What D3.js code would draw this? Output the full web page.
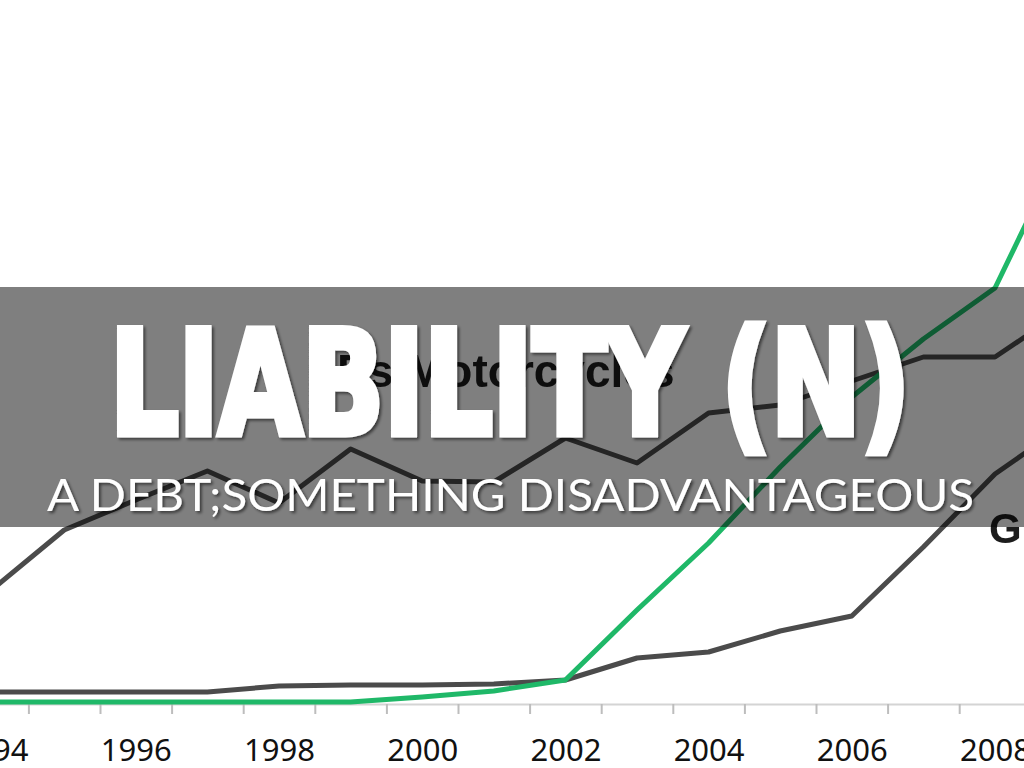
<!DOCTYPE html>
<html>
<head>
<meta charset="utf-8">
<script src="https://cdn.jsdelivr.net/npm/d3@7"></script>
<style>
  html, body { margin: 0; padding: 0; background: #ffffff; overflow: hidden; }
  svg { display: block; }
</style>
</head>
<body>
<svg id="chart" width="1024" height="768"></svg>
<script>
// ---------------- data ----------------
const years = [1994, 1995, 1996, 1997, 1998, 1999, 2000, 2001, 2002, 2003, 2004, 2005, 2006, 2007, 2008, 2009];
const motorcycles = [11.3, 17.2, 20.2, 23.1, 19.9, 25.3, 22.1, 22.0, 26.4, 23.9, 28.9, 29.7, 32.1, 34.5, 34.5, 39.3];
const gSeries = [1.0, 1.0, 1.0, 1.0, 1.6, 1.7, 1.7, 1.8, 2.2, 4.4, 5.0, 7.1, 8.6, 15.5, 22.8, 27.8];
const greenSeries = [0, 0, 0, 0, 0, 0, 0.5, 1.1, 2.2, 9.2, 15.9, 23.5, 30.5, 36.3, 41.4, 56.2];
const tickLabelYears = [1994, 1996, 1998, 2000, 2002, 2004, 2006, 2008];
const seriesLabels = ["Ps Motorcycles", "G"];
const titleText = "LIABILITY (N)";
const subtitleText = "A DEBT;SOMETHING DISADVANTAGEOUS";

// ---------------- setup ----------------
const W = 1024, H = 768;
const svg = d3.select("#chart");

const defs = svg.append("defs");
const f = defs.append("filter").attr("id", "shadow")
  .attr("x", "-10%").attr("y", "-10%").attr("width", "120%").attr("height", "130%");
f.append("feDropShadow").attr("dx", 2).attr("dy", 2).attr("stdDeviation", 1.5)
  .attr("flood-color", "#000").attr("flood-opacity", 0.55);
const fb = defs.append("filter").attr("id", "soft");
fb.append("feGaussianBlur").attr("stdDeviation", 0.6);

const step = 71.6;
const c1996 = 135.8;
const x = d3.scaleLinear()
  .domain([1993.5, 2009.5])
  .range([c1996 - 2.5 * step, c1996 - 2.5 * step + 16 * step]);
const y = d3.scaleLinear().domain([0, 70]).range([702, 2]);

const chart = svg.append("g");

// ---------------- axis ----------------
const axisY = 704;
const boundaries = d3.range(1993.5, 2009.6, 1);
const tickAxis = chart.append("g")
  .attr("transform", `translate(0,${axisY})`)
  .call(d3.axisBottom(x).tickValues(boundaries).tickSize(10).tickSizeOuter(0).tickFormat(""));
tickAxis.select(".domain").attr("stroke", "#d4d4d4").attr("stroke-width", 2);
tickAxis.selectAll(".tick line").attr("stroke", "#bdbdbd").attr("stroke-width", 2);

const labelAxis = chart.append("g")
  .attr("transform", `translate(0,${axisY})`)
  .call(d3.axisBottom(x).tickValues(tickLabelYears).tickSize(0).tickPadding(35).tickFormat(d3.format("d")));
labelAxis.select(".domain").remove();
labelAxis.selectAll(".tick text")
  .attr("font-family", "'Noto Sans', 'Open Sans', sans-serif")
  .attr("font-size", 31)
  .attr("fill", "#111")
  .attr("dy", "0.71em");

// ---------------- lines ----------------
const line = d3.line().x((d, i) => x(years[i])).y(d => y(d));
function drawLine(vals, color) {
  chart.append("path")
    .datum(vals)
    .attr("d", line)
    .attr("fill", "none")
    .attr("stroke", color)
    .attr("stroke-width", 5)
    .attr("stroke-linejoin", "round")
    .attr("stroke-linecap", "round");
}
drawLine(gSeries, "#4b4b4b");
drawLine(motorcycles, "#4b4b4b");
drawLine(greenSeries, "#1fb868");

// ---------------- series labels ----------------
chart.append("text")
  .attr("x", 337).attr("y", 387)
  .attr("font-family", "'Liberation Sans', Arial, sans-serif")
  .attr("font-weight", "bold")
  .attr("font-size", 46)
  .attr("fill", "#1e1e1e")
  .attr("filter", "url(#soft)")
  .text(seriesLabels[0]);
chart.append("text")
  .attr("x", 989).attr("y", 543)
  .attr("font-family", "'Liberation Sans', Arial, sans-serif")
  .attr("font-weight", "bold")
  .attr("font-size", 42)
  .attr("fill", "#1e1e1e")
  .attr("filter", "url(#soft)")
  .text(seriesLabels[1]);

// ---------------- overlay banner ----------------
svg.append("rect")
  .attr("x", 0).attr("y", 287).attr("width", W).attr("height", 240)
  .attr("fill", "#000").attr("fill-opacity", 0.5);

svg.append("text")
  .attr("x", 110).attr("y", 434)
  .attr("textLength", 800)
  .attr("lengthAdjust", "spacingAndGlyphs")
  .attr("font-family", "'Liberation Sans Narrow', 'DejaVu Sans Condensed', 'Liberation Sans', sans-serif")
  .attr("font-weight", "bold")
  .attr("font-size", 144)
  .attr("fill", "#ffffff")
  .attr("stroke", "#ffffff")
  .attr("stroke-width", 7)
  .attr("stroke-linejoin", "miter")
  .attr("filter", "url(#shadow)")
  .text(titleText);

svg.append("text")
  .attr("x", 47).attr("y", 511)
  .attr("textLength", 927)
  .attr("lengthAdjust", "spacingAndGlyphs")
  .attr("font-family", "Lato, 'Open Sans', sans-serif")
  .attr("font-weight", 400)
  .attr("font-size", 45)
  .attr("fill", "#ffffff")
  .attr("filter", "url(#shadow)")
  .text(subtitleText);
</script>
</body>
</html>
